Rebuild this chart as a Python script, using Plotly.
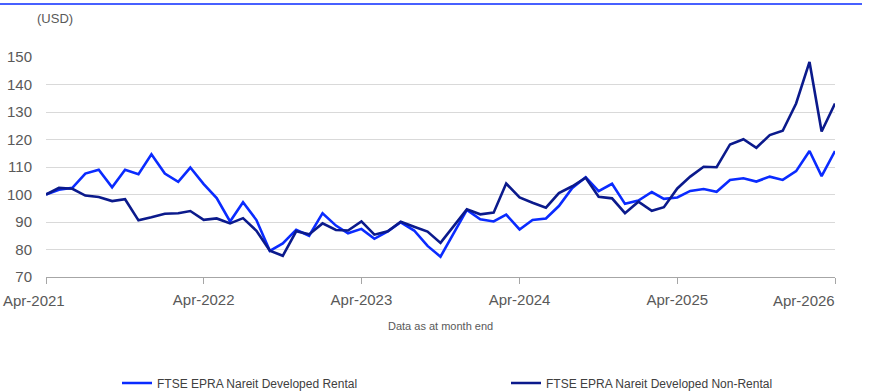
import pandas as pd
import plotly.graph_objects as go

# Monthly index levels (rebased to 100 at Apr-2021)
months = pd.date_range("2021-04-01", periods=61, freq="MS")

rental = [
    100.0, 101.7, 102.4, 107.6, 109.0, 102.6, 109.0, 107.4, 114.6, 107.6,
    104.6, 109.8, 103.8, 98.7, 90.2, 97.2, 90.7, 79.5, 82.2, 87.2,
    85.0, 93.2, 88.7, 85.9, 87.5, 83.9, 86.6, 89.9, 86.9, 81.3,
    77.4, 85.8, 94.4, 91.0, 90.2, 92.7, 87.3, 90.7, 91.3, 95.8,
    102.4, 106.3, 101.2, 103.9, 96.6, 97.8, 100.9, 98.4, 98.9, 101.3,
    102.0, 101.0, 105.3, 105.9, 104.7, 106.5, 105.3, 108.5, 115.8, 106.7,
    115.8,
]

non_rental = [
    100.0, 102.4, 102.1, 99.6, 99.1, 97.6, 98.3, 90.6, 91.7, 93.0,
    93.2, 94.0, 90.8, 91.3, 89.5, 91.4, 86.8, 79.6, 77.7, 86.6,
    85.5, 89.5, 87.1, 86.9, 90.2, 85.4, 86.6, 90.1, 88.3, 86.5,
    82.4, 88.5, 94.6, 92.8, 93.4, 104.0, 98.9, 97.0, 95.2, 100.5,
    103.0, 106.1, 99.2, 98.6, 93.2, 97.4, 94.1, 95.4, 102.2, 106.5,
    110.1, 109.9, 118.2, 120.1, 117.0, 121.6, 123.2, 133.1, 148.2, 122.9,
    133.1,
]

year_ticks = pd.date_range("2021-04-01", periods=6, freq="12MS")
year_labels = [d.strftime("%b-%Y") for d in year_ticks]

series_names = ["FTSE EPRA Nareit Developed Rental", "FTSE EPRA Nareit Developed Non-Rental"]
series_colors = ["#0a2bff", "#0b1a8c"]

W, H = 870, 392
ML, MR, MT, MB = 46, 35, 57, 115
PW, PH = W - ML - MR, H - MT - MB


def px_x(px):
    return (px - ML) / PW


def px_y(py):
    return (H - MB - py) / PH


fig = go.Figure()
for name, vals, col, leg in zip(series_names, [rental, non_rental], series_colors, ["legend", "legend2"]):
    fig.add_trace(go.Scatter(
        x=months, y=vals, name=name, mode="lines",
        line=dict(color=col, width=2.6), legend=leg,
    ))

label_font = dict(family="Liberation Sans, Arial, sans-serif", size=15, color="#595959")
legend_font = dict(family="Liberation Sans, Arial, sans-serif", size=12, color="#404040")

fig.update_layout(
    width=W, height=H,
    margin=dict(l=ML, r=MR, t=MT, b=MB, autoexpand=False),
    paper_bgcolor="white", plot_bgcolor="white",
    font=dict(family="Liberation Sans, Arial, sans-serif", color="#595959"),
    xaxis=dict(
        range=[months[0], months[-1]], automargin=False,
        showgrid=False, zeroline=False,
        showline=True, linecolor="#a6a6a6", linewidth=1,
        ticks="outside", ticklen=6, tickcolor="#a6a6a6", tickwidth=1,
        tickvals=list(year_ticks),
        ticktext=[""] + year_labels[1:-1] + [""],
        tickfont=label_font,
        ticklabelstandoff=3,
    ),
    yaxis=dict(
        range=[70, 150], tickvals=list(range(70, 151, 10)), automargin=False,
        showgrid=True, gridcolor="#d9d9d9", gridwidth=1,
        zeroline=False, showline=False,
        tickfont=label_font, ticklabelstandoff=13,
    ),
    legend=dict(
        xref="container", yref="container",
        x=117 / W, y=(H - 383) / H, xanchor="left", yanchor="middle",
        orientation="h", bgcolor="rgba(0,0,0,0)", font=legend_font,
    ),
    legend2=dict(
        xref="container", yref="container",
        x=506 / W, y=(H - 383) / H, xanchor="left", yanchor="middle",
        orientation="h", bgcolor="rgba(0,0,0,0)", font=legend_font,
    ),
    showlegend=True,
)

# Top rule across the page
fig.add_shape(
    type="line", xref="paper", yref="paper",
    x0=px_x(0), x1=px_x(862), y0=px_y(4), y1=px_y(4),
    line=dict(color="#0a2bff", width=1.3),
)

# Unit label, footnote and the justified first/last period labels
fig.add_annotation(
    text="(USD)", xref="paper", yref="paper", x=px_x(35), y=px_y(18),
    xanchor="left", yanchor="middle", showarrow=False,
    font=dict(family="Liberation Sans, Arial, sans-serif", size=13, color="#595959"),
)
fig.add_annotation(
    text="Data as at month end", xref="paper", yref="paper", x=px_x(440), y=px_y(326),
    xanchor="center", yanchor="middle", showarrow=False,
    font=dict(family="Liberation Sans, Arial, sans-serif", size=11, color="#595959"),
)
fig.add_annotation(
    text=year_labels[0], xref="paper", yref="paper", x=px_x(1), y=px_y(300),
    xanchor="left", yanchor="middle", showarrow=False, font=label_font,
)
fig.add_annotation(
    text=year_labels[-1], xref="paper", yref="paper", x=px_x(837), y=px_y(300),
    xanchor="right", yanchor="middle", showarrow=False, font=label_font,
)

fig.write_html("out.html")
